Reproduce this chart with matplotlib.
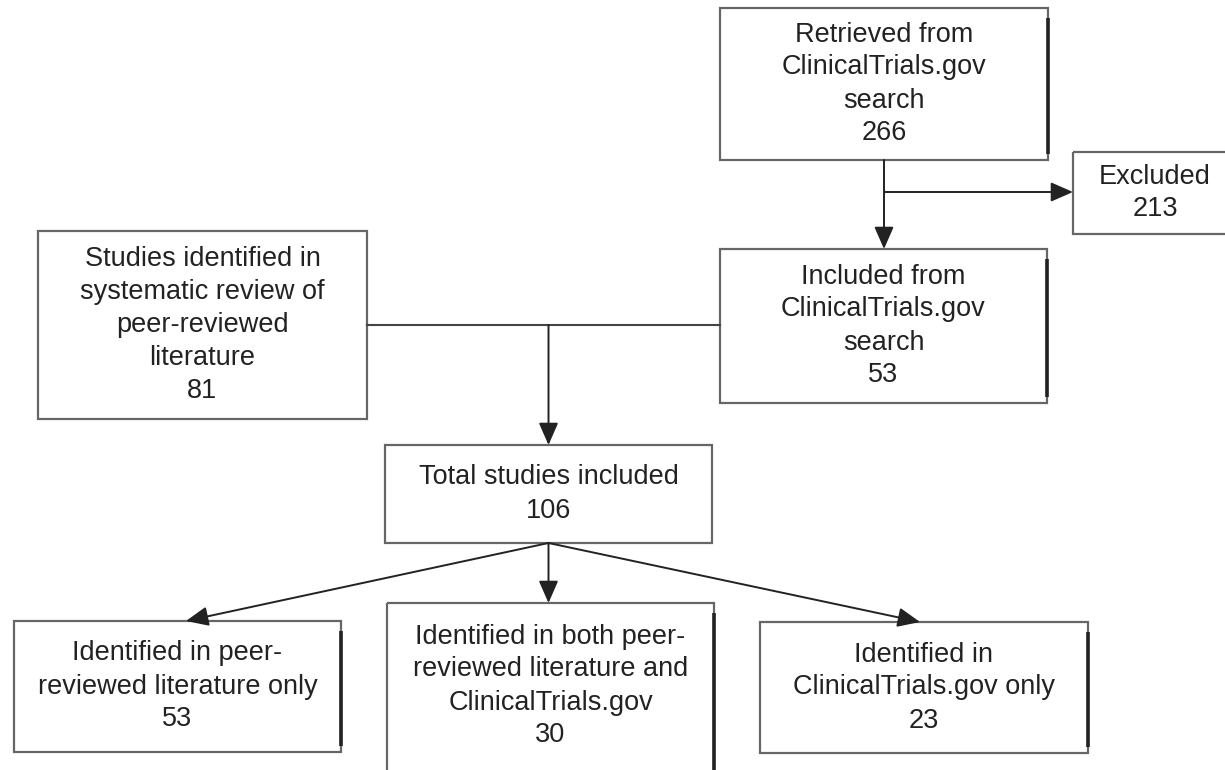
import matplotlib
matplotlib.use("Agg")
import matplotlib.pyplot as plt
from matplotlib.patches import Rectangle

plt.rcParams['font.family'] = ['Liberation Sans', 'DejaVu Sans']

# box texts and counts
labels = [
    "Retrieved from\nClinicalTrials.gov\nsearch",
    "Excluded",
    "Included from\nClinicalTrials.gov\nsearch",
    "Studies identified in\nsystematic review of\npeer-reviewed\nliterature",
    "Total studies included",
    "Identified in peer-\nreviewed literature only",
    "Identified in both peer-\nreviewed literature and\nClinicalTrials.gov",
    "Identified in\nClinicalTrials.gov only",
]
counts = [266, 213, 53, 81, 106, 53, 30, 23]

# layout in pixels: left, top, right, bottom
boxes = [
    (720, 8, 1048, 160),
    (1073, 152, 1237, 234),
    (720, 249, 1047, 403),
    (38, 231, 367, 419),
    (385, 445, 712, 543),
    (14, 621, 341, 752),
    (387, 603, 714, 800),
    (760, 622, 1088, 753),
]
text_y = [None, None, None, None, None, None, 686, None]
thick_right = [True, False, True, False, False, True, True, True]

fig = plt.figure(figsize=(12.25, 7.7), dpi=100)
ax = fig.add_axes([0, 0, 1, 1])
ax.set_xlim(0, 1225)
ax.set_ylim(770, 0)
ax.axis('off')

for i, (l, t, r, b) in enumerate(boxes):
    ax.add_patch(Rectangle((l, t), r - l, b - t, fill=False,
                           edgecolor='#666666', linewidth=1.6))
    if thick_right[i]:
        ax.plot([r, r], [t + 10, b - 6], color='#222222', linewidth=2.6,
                solid_capstyle='butt')
    cy = text_y[i] if text_y[i] is not None else (t + b) / 2
    ax.text((l + r) / 2, cy, f"{labels[i]}\n{counts[i]}", ha='center',
            va='center', fontsize=19.5, color='#222222', linespacing=1.35)

line_kw = dict(color='#444444', linewidth=1.5)
arrow_kw = dict(arrowstyle='-|>,head_length=0.8,head_width=0.35',
                color='#222222', lw=1.4, shrinkA=0, shrinkB=0,
                mutation_scale=17)

def arrow(x0, y0, x1, y1):
    ax.annotate("", xy=(x1, y1), xytext=(x0, y0), arrowprops=arrow_kw)

# retrieved -> included, with branch to excluded
x_top = (boxes[0][0] + boxes[0][2]) / 2
arrow(x_top, boxes[0][3], x_top, boxes[2][1])
arrow(x_top, 192, boxes[1][0], 192)

# studies + included -> total
ax.plot([boxes[3][2], boxes[2][0]], [325, 325], **line_kw)
x_mid = (boxes[4][0] + boxes[4][2]) / 2
arrow(x_mid, 325, x_mid, boxes[4][1])

# total -> three groups
yb = boxes[4][3]
arrow(x_mid, yb, 186, boxes[5][1])
arrow(x_mid, yb, x_mid, boxes[6][1])
arrow(x_mid, yb, 920, boxes[7][1])

fig.savefig("out.png", dpi=100)
